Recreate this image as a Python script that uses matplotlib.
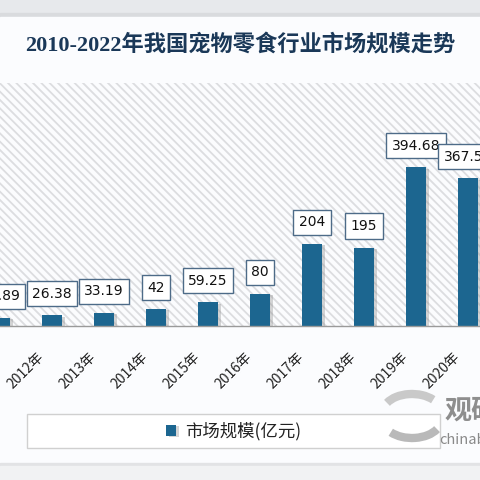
import matplotlib
matplotlib.use('Agg')
import matplotlib.pyplot as plt
import matplotlib.patches as mpatches
import matplotlib.patheffects as pe
import matplotlib.transforms as mtrans
import numpy as np

# data (2011 and 2020 are cut by the frame in the source picture)
years = ['2011年', '2012年', '2013年', '2014年', '2015年', '2016年',
         '2017年', '2018年', '2019年', '2020年']
values = [19.89, 26.38, 33.19, 42, 59.25, 80, 204, 195, 394.68, 367.58]
series_name = '市场规模(亿元)'
title = '2010-2022年我国宠物零食行业市场规模走势'

bar_color = '#1c6690'

plt.rcParams['font.family'] = ['Noto Sans CJK SC', 'DejaVu Sans']
plt.rcParams['hatch.linewidth'] = 1.3

fig = plt.figure(figsize=(4.8, 4.8), dpi=100, facecolor='#eceef1')

# background panel in pixel coords
bg = fig.add_axes([0, 0, 1, 1], zorder=0)
bg.set_xlim(0, 480)
bg.set_ylim(480, 0)
bg.axis('off')
bg.add_patch(mpatches.Rectangle((0, 0), 480, 17, color='#e7e9ec'))
bg.add_patch(mpatches.Rectangle((0, 13), 480, 4, color='#d9dbde'))
bg.add_patch(mpatches.Rectangle((0, 17), 480, 446, color='#fbfcfe'))
bg.add_patch(mpatches.Rectangle((0, 463), 480, 3, color='#e2e3e5'))
bg.add_patch(mpatches.Rectangle((0, 466), 480, 14, color='#f1f2f3'))

fig.text(0.5, 1 - 45 / 480, title, ha='center', va='center', fontsize=16,
         fontweight='bold', color='#1a3858',
         family=['Liberation Serif', 'Noto Sans CJK SC'])

# main chart
ax = fig.add_axes([0, 1 - 326 / 480, 1, 243 / 480], zorder=1)
ax.patch.set_alpha(0)
ax.add_patch(mpatches.Rectangle((0, 0), 1, 1, transform=ax.transAxes,
                                facecolor='#fbfcfe', edgecolor='#dcdde0',
                                lw=0, hatch='\\\\\\\\', zorder=0))
x = np.arange(len(years))
shadow = [pe.SimplePatchShadow(offset=(2, -1), shadow_rgbFace='#888888', alpha=0.35),
          pe.Normal()]
bars = ax.bar(x, values, width=0.4, color=bar_color, zorder=2, path_effects=shadow)
ax.set_xlim(0.118, 9.23)
ax.set_ylim(0, 604)
ax.set_xticks(x, years, rotation=45, ha='right', va='top',
              rotation_mode='anchor', fontsize=10)
ax.tick_params(axis='x', length=0, pad=17, colors='#222222')
shift = mtrans.ScaledTranslation(-15 / 100, 0, fig.dpi_scale_trans)
for lab in ax.get_xticklabels():
    lab.set_transform(lab.get_transform() + shift)
ax.set_yticks([])
for s in ['top', 'left', 'right']:
    ax.spines[s].set_visible(False)
ax.spines['bottom'].set_color('#9a9a9a')
ax.spines['bottom'].set_linewidth(1)

for xi, v in zip(x, values):
    ax.annotate(f'{v:g}', xy=(xi, v), xytext=(0, 10.5), textcoords='offset points',
                ha='center', va='bottom', fontsize=10, family='DejaVu Sans',
                color='#111111', annotation_clip=False, zorder=3,
                bbox=dict(boxstyle='square,pad=0.4', fc='white', ec='#4d6b88', lw=1))

# legend box and watermark
ov = fig.add_axes([0, 0, 1, 1], zorder=3)
ov.set_xlim(0, 480)
ov.set_ylim(480, 0)
ov.axis('off')
ov.patch.set_alpha(0)
ov.add_patch(mpatches.Rectangle((27, 414), 413, 34, fc='white', ec='#d0d0d0', lw=1))
ov.add_patch(mpatches.Arc((412, 412), 58, 36, theta1=200, theta2=330, lw=6, color='#c9c9c9'))
ov.add_patch(mpatches.Arc((412, 420), 58, 36, theta1=20, theta2=150, lw=6, color='#b9b9b9'))
ov.text(445, 411, '观研天下', ha='left', va='center', fontsize=19.5,
        fontweight='bold', color='#8e8e8e')
ov.text(439, 440, 'chinabaogao.com', ha='left', va='center', fontsize=10.5,
        color='#8a8a8a')

fig.legend(handles=[bars], labels=[series_name], loc='center',
           bbox_to_anchor=(233.5 / 480, 1 - 431 / 480), frameon=False,
           fontsize=12.5, handlelength=0.6, handleheight=0.6, handletextpad=0.5,
           labelcolor='#222222')

fig.savefig('out.png', dpi=100, facecolor=fig.get_facecolor())
